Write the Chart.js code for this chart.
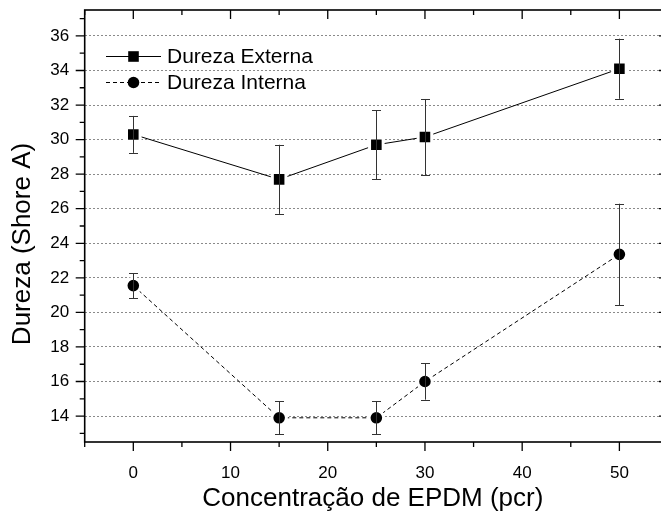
<!DOCTYPE html>
<html><head><meta charset="utf-8">
<script src="https://cdn.jsdelivr.net/npm/chart.js@4/dist/chart.umd.min.js"></script>
<style>
html,body{margin:0;padding:0;background:#fff;overflow:hidden;}
#wrap{width:661px;height:520px;position:relative;}
</style></head><body>
<div id="wrap"><canvas id="c"></canvas></div>
<script>
const concentracao = [0, 15, 25, 30, 50];
const durezaExterna = [30.3, 27.7, 29.7, 30.15, 34.1];
const erroExterna = [1.07, 2.0, 2.0, 2.2, 1.74];
const durezaInterna = [21.55, 13.9, 13.9, 16.0, 23.36];
const erroInterna = [0.72, 0.95, 0.95, 1.05, 2.93];
const xTicks = [0, 10, 20, 30, 40, 50];
const yTicks = [14, 16, 18, 20, 22, 24, 26, 28, 30, 32, 34, 36];
const xFrameEnd = 55;      // right spine of the original plot frame (cropped off the picture)
const xTitle = 'Concentração de EPDM (pcr)';
const yTitle = 'Dureza (Shore A)';
const FONT = "'Liberation Sans', Arial, Helvetica, sans-serif";

function toPoints(ys){ return concentracao.map((x,i)=>({x:x, y:ys[i]})); }

const framePlugin = {
  id: 'frame',
  afterDatasetsDraw(chart){
    const ctx = chart.ctx, ca = chart.chartArea, xs = chart.scales.x, ys = chart.scales.y;
    ctx.save();
    chart.data.datasets.forEach((ds) => {
      ctx.strokeStyle = '#333'; ctx.lineWidth = 1;
      ds.data.forEach((p, i) => {
        const e = ds.errors[i];
        const px = Math.round(xs.getPixelForValue(p.x)) + 0.5;
        const yt = ys.getPixelForValue(p.y + e), yb = ys.getPixelForValue(p.y - e);
        ctx.beginPath();
        ctx.moveTo(px, yt); ctx.lineTo(px, yb);
        ctx.moveTo(px - 4.5, Math.round(yt)+0.5); ctx.lineTo(px + 4.5, Math.round(yt)+0.5);
        ctx.moveTo(px - 4.5, Math.round(yb)+0.5); ctx.lineTo(px + 4.5, Math.round(yb)+0.5);
        ctx.stroke();
      });
    });
    const right = xs.getPixelForValue(xFrameEnd);
    ctx.strokeStyle = '#000'; ctx.lineWidth = 1.6;
    ctx.strokeRect(ca.left, ca.top, right - ca.left, ca.bottom - ca.top);
    ctx.lineWidth = 1.3;
    ctx.beginPath();
    const majX = xs.ticks.map(t => t.value);
    for (let v = xs.min; v <= xFrameEnd + 1e-9; v += 5) {
      const px = xs.getPixelForValue(v);
      const L = majX.includes(v) ? 9 : 5;
      ctx.moveTo(px, ca.bottom); ctx.lineTo(px, ca.bottom + L);
      ctx.moveTo(px, ca.top); ctx.lineTo(px, ca.top + L);
    }
    const majY = ys.ticks.map(t => t.value);
    for (let v = Math.ceil(ys.min); v <= ys.max + 1e-9; v += 1) {
      const py = ys.getPixelForValue(v);
      const L = majY.includes(v) ? 9 : 5;
      ctx.moveTo(ca.left - L, py); ctx.lineTo(ca.left, py);
      ctx.moveTo(right - L, py); ctx.lineTo(right, py);
    }
    ctx.stroke();
    ctx.restore();
  },
  afterDraw(chart){
    const ctx = chart.ctx;
    ctx.save();
    ctx.fillStyle = '#000';
    ctx.font = '26px ' + FONT;
    ctx.textAlign = 'center'; ctx.textBaseline = 'middle';
    ctx.translate(23, 244); ctx.rotate(-Math.PI/2);
    ctx.fillText(yTitle, 0, 0);
    ctx.restore();
    ctx.save();
    const rows = [{y:56.5, ds: chart.data.datasets[0]}, {y:82.5, ds: chart.data.datasets[1]}];
    rows.forEach(r => {
      ctx.strokeStyle = '#000'; ctx.lineWidth = 1;
      ctx.setLineDash(r.ds.borderDash || []);
      ctx.beginPath(); ctx.moveTo(106, r.y); ctx.lineTo(161, r.y); ctx.stroke();
      ctx.setLineDash([]);
      ctx.fillStyle = '#000';
      ctx.beginPath();
      if (r.ds.pointStyle === 'rect') ctx.rect(133.5 - 5.3, r.y - 5.3, 10.6, 10.6);
      else ctx.arc(133.5, r.y, 5.8, 0, Math.PI*2);
      ctx.fill();
      ctx.font = '21px ' + FONT; ctx.textAlign = 'left'; ctx.textBaseline = 'middle';
      ctx.fillText(r.ds.label, 167, r.y + 0.5);
    });
    ctx.restore();
  }
};

new Chart(document.getElementById('c'), {
  type: 'scatter',
  data: {
    datasets: [
      { label: 'Dureza Externa', data: toPoints(durezaExterna), errors: erroExterna,
        showLine: true, borderColor: '#000', borderWidth: 1,
        pointStyle: 'rect', pointRadius: 9.6, pointBackgroundColor: '#000',
        pointBorderColor: '#fff', pointBorderWidth: 3 },
      { label: 'Dureza Interna', data: toPoints(durezaInterna), errors: erroInterna,
        showLine: true, borderColor: '#000', borderWidth: 1, borderDash: [4, 3],
        pointStyle: 'circle', pointRadius: 7.3, pointBackgroundColor: '#000',
        pointBorderColor: '#fff', pointBorderWidth: 3 }
    ]
  },
  options: {
    responsive: true, maintainAspectRatio: false, animation: false, events: [],
    devicePixelRatio: 1,
    layout: { autoPadding: false, padding: { left: 0, right: 0, top: 10, bottom: 0 } },
    plugins: { legend: { display: false }, tooltip: { enabled: false } },
    scales: {
      x: {
        type: 'linear', position: 'bottom', min: -5, max: 54.28,
        afterBuildTicks: s => { s.ticks = xTicks.map(v => ({value: v})); },
        afterFit: s => { s.height = 78; s.paddingLeft = 0; s.paddingRight = 0; },
        ticks: { color: '#000', font: { family: FONT, size: 17 }, padding: 13, maxRotation: 0, autoSkip: false },
        grid: { display: false },
        border: { display: false },
        title: { display: true, text: xTitle, color: '#000', font: { family: FONT, size: 26 }, padding: { top: 0, bottom: 6 } }
      },
      y: {
        type: 'linear', position: 'left', min: 12.5, max: 37.5,
        afterBuildTicks: s => { s.ticks = yTicks.map(v => ({value: v})); },
        afterFit: s => { s.width = 84.7; s.paddingTop = 0; s.paddingBottom = 0; },
        ticks: { color: '#000', font: { family: FONT, size: 17 }, padding: 15.5, autoSkip: false },
        grid: { display: true, drawTicks: false, color: '#8a8a8a', lineWidth: 1 },
        border: { display: false, dash: [2, 2] }
      }
    }
  },
  plugins: [framePlugin]
});
</script>
</body></html>
